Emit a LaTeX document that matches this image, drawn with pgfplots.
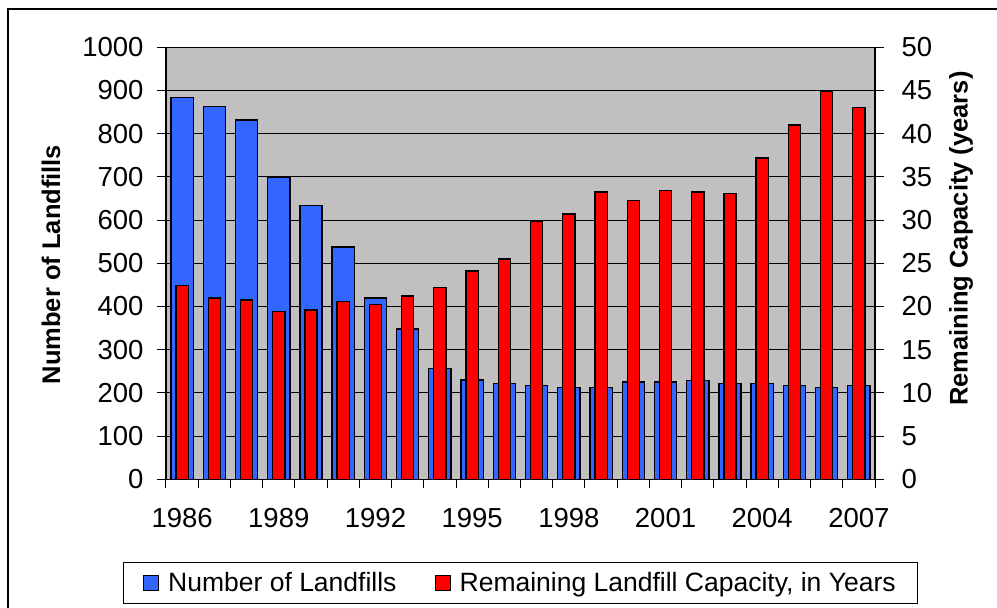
\documentclass[border=0pt]{standalone}
\usepackage{pgfplots}
\pgfplotsset{compat=1.18}
\usepackage{fontspec}
\setmainfont{Liberation Sans}
\definecolor{lfblue}{HTML}{3366FF}
\definecolor{lfred}{HTML}{FF0000}
\definecolor{plotgray}{HTML}{C0C0C0}
\pgfplotstableread{
x n cap
0 883 22.4
1 863 21.0
2 832 20.75
3 698 19.4
4 633 19.6
5 538 20.6
6 420 20.2
7 348 21.2
8 257 22.2
9 230 24.1
10 221 25.5
11 217 29.9
12 213 30.7
13 213 33.25
14 225 32.25
15 225 33.45
16 229 33.25
17 221 33.06
18 221 37.2
19 217 41.0
20 213 44.95
21 217 43.0
}\landfills
\begin{document}
\begin{tikzpicture}[x=1pt,y=1pt]
\useasboundingbox (0,0) rectangle (997,608);
\draw[black, line width=1.5pt] (8,-20) rectangle (1020,599);
\pgfplotsset{
  every axis/.append style={
    at={(166pt,128.7pt)}, anchor=south west,
    scale only axis, width=709pt, height=432pt,
    xmin=-0.5, xmax=21.5,
    tick align=outside, major tick length=9pt,
    tick style={black, line width=1pt},
    /pgf/number format/assume math mode=true,
    /pgf/number format/1000 sep={},
    tick label style={font=\fontsize{27.5}{32}\selectfont},
    label style={font=\bfseries\fontsize{25.5}{30}\selectfont},
  }
}
\begin{axis}[
  ymin=0, ymax=1000,
  ytick={0,100,...,1000},
  ytick pos=left, xtick pos=bottom,
  xtick={-0.5,0.5,...,21.5},
  xticklabels={},
  extra x ticks={0,3,6,9,12,15,18,21},
  extra x tick labels={1986,1989,1992,1995,1998,2001,2004,2007},
  extra x tick style={major tick length=0pt, tick style={draw=none},
     xticklabel style={yshift=-25pt}},
  yticklabel style={xshift=-10pt},
  axis background/.style={fill=plotgray},
  ymajorgrids, grid style={black, line width=0.8pt},
  axis line style={black, line width=1.2pt},
  ylabel={Number of Landfills},
  ylabel style={at={(axis description cs:-0.1622,0.497)}, anchor=center},
]
\addplot[ybar, bar width=0.69, fill=lfblue, draw=black, line width=1.3pt]
  table[x=x, y=n] {\landfills};
\end{axis}
\begin{axis}[
  ymin=0, ymax=50,
  ytick={0,5,...,50},
  axis y line*=right, axis x line=none,
  yticklabel style={xshift=14pt},
  axis line style={black, line width=1.2pt},
  ylabel={Remaining Capacity (years)},
  ylabel style={at={(axis description cs:1.1213,0.557)}, anchor=center},
  legend style={at={(axis description cs:0.5,-0.24)}, anchor=center,
    draw=black, line width=0.8pt, fill=white,
    legend columns=2,
    font=\fontsize{26.5}{31}\selectfont,
    inner xsep=20pt, inner ysep=8pt,
    /tikz/every even column/.append style={column sep=36pt},
    legend cell align=left},
  legend image code/.code={\draw[#1, line width=1pt] (0pt,-7.5pt) rectangle (15pt,7.5pt); \path (22pt,0pt);},
]
\addlegendimage{fill=lfblue, draw=black}
\addlegendentry{Number of Landfills}
\addplot[ybar, bar width=0.38, fill=lfred, draw=black, line width=1.3pt]
  table[x=x, y=cap] {\landfills};
\addlegendentry{Remaining Landfill Capacity, in Years}
\end{axis}
\end{tikzpicture}
\end{document}
